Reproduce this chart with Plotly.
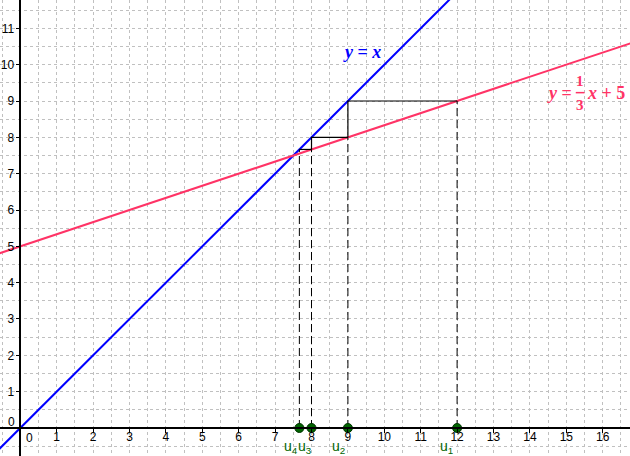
import plotly.graph_objects as go

# sequence u(n+1) = f(u(n)) = u(n)/3 + 5, starting at u1 = 12
u_values = [12, 9, 8, 23 / 3]
u_labels = ["u<sub>1</sub>", "u<sub>2</sub>", "u<sub>3</sub>", "u<sub>4</sub>"]
line_x = [-1, 18]
x_ticks = list(range(1, 17))
y_ticks = list(range(1, 12))

BLUE = "#0000ff"
PINK = "#ff3366"
GREEN = "#006400"
GRID = "#c0c0c0"


def f(x):
    return x / 3 + 5


fig = go.Figure()

# y = x and y = x/3 + 5
fig.add_trace(go.Scatter(x=line_x, y=line_x, mode="lines", line=dict(color=BLUE, width=2), hoverinfo="skip"))
fig.add_trace(
    go.Scatter(x=line_x, y=[f(v) for v in line_x], mode="lines", line=dict(color=PINK, width=2), hoverinfo="skip")
)

# dashed verticals from the x axis up to the curve
for i, u in enumerate(u_values):
    top = u_values[i + 1] if i + 1 < len(u_values) else u
    fig.add_trace(
        go.Scatter(
            x=[u, u], y=[0, top], mode="lines", line=dict(color="black", width=1, dash="8px,4px"), hoverinfo="skip"
        )
    )

# cobweb staircase
web_x, web_y = [], []
for i in range(len(u_values) - 1):
    a, b = u_values[i], u_values[i + 1]
    nxt = u_values[i + 2] if i + 2 < len(u_values) else b
    web_x += [a, b, b, None]
    web_y += [b, b, nxt, None]
fig.add_trace(go.Scatter(x=web_x, y=web_y, mode="lines", line=dict(color="black", width=1.2), hoverinfo="skip"))

# points on the x axis
fig.add_trace(
    go.Scatter(
        x=u_values,
        y=[0] * len(u_values),
        mode="markers",
        marker=dict(color=GREEN, size=9, line=dict(color="#003300", width=1)),
        hoverinfo="skip",
    )
)

label_shift = [-0.28, -0.25, -0.17, -0.24]
for u, lab, dx in zip(u_values, u_labels, label_shift):
    fig.add_annotation(
        x=u + dx, y=-0.52, text=lab, showarrow=False, font=dict(color=GREEN, size=14, family="Liberation Sans")
    )

# equation labels
eq_font = dict(family="Liberation Serif", size=18)
fig.add_annotation(
    x=9.39, y=10.35, text="<b><i>y</i> = <i>x</i></b>", showarrow=False, font=dict(color=BLUE, **eq_font)
)
fig.add_annotation(
    x=15.2, y=9.22, xanchor="right", text="<b><i>y</i> =</b>", showarrow=False, font=dict(color=PINK, **eq_font)
)
frac_font = dict(color=PINK, family="Liberation Serif", size=15)
fig.add_annotation(x=15.38, y=9.55, text="<b>1</b>", showarrow=False, font=frac_font)
fig.add_annotation(x=15.38, y=8.9, text="<b>3</b>", showarrow=False, font=frac_font)
fig.add_shape(type="line", x0=15.26, x1=15.5, y0=9.23, y1=9.23, line=dict(color=PINK, width=1.5))
fig.add_annotation(
    x=15.52, y=9.22, xanchor="left", text="<b><i>x</i> + 5</b>", showarrow=False, font=dict(color=PINK, **eq_font)
)

# origin labels
tick_font = dict(family="Liberation Sans", size=12, color="black")
fig.add_annotation(x=0.25, y=-0.27, text="0", showarrow=False, font=tick_font)
fig.add_annotation(x=-0.25, y=0.17, text="0", showarrow=False, font=tick_font)

x_min, x_max = -0.558, 16.75
y_min, y_max = -0.771, 11.78

axis_common = dict(
    showgrid=True,
    gridcolor=GRID,
    griddash="3px,3px",
    gridwidth=1,
    zeroline=False,
    showline=True,
    linecolor="black",
    linewidth=1.5,
    ticks="outside",
    ticklen=4,
    tickcolor="black",
    tickfont=tick_font,
    anchor="free",
    fixedrange=True,
    minor=dict(dtick=0.5, tick0=0, showgrid=True, gridcolor=GRID, griddash="3px,3px", ticks=""),
)

fig.update_layout(
    width=630,
    height=456,
    margin=dict(l=0, r=0, t=0, b=0),
    paper_bgcolor="white",
    plot_bgcolor="white",
    showlegend=False,
    xaxis=dict(
        range=[x_min, x_max],
        tickvals=x_ticks,
        position=-y_min / (y_max - y_min),
        ticklabelstandoff=-6,
        **axis_common,
    ),
    yaxis=dict(
        range=[y_min, y_max],
        tickvals=y_ticks,
        position=-x_min / (x_max - x_min),
        ticklabelstandoff=-1,
        **axis_common,
    ),
)

fig.write_html(
    "out.html",
    config={"displayModeBar": False},
    post_script="document.body.style.margin = '0';",
)
